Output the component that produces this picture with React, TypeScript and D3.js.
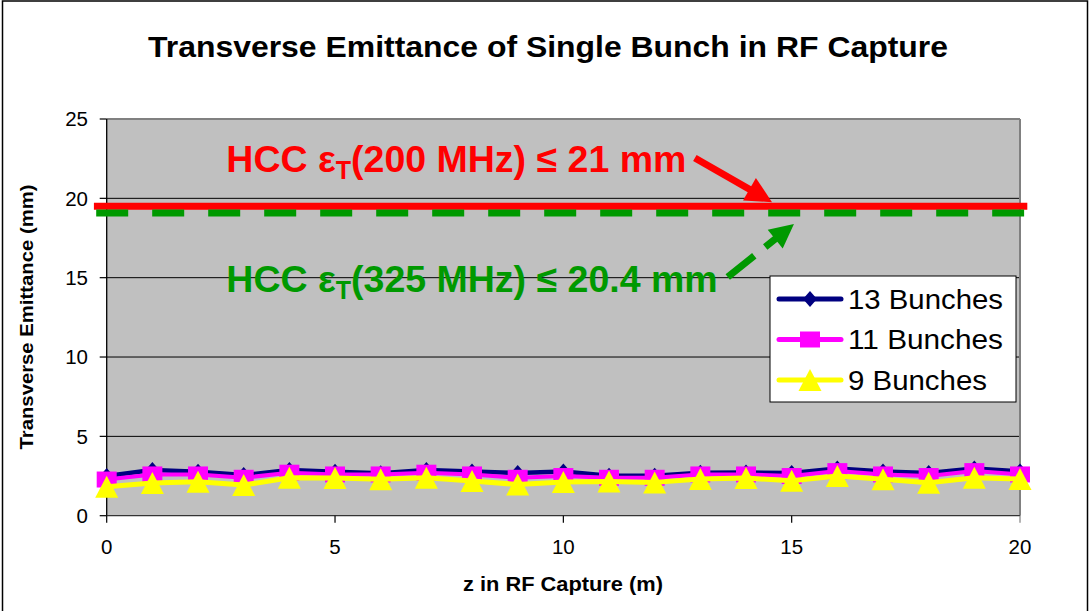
import React from 'react';
import * as d3 from 'd3';

// z positions (m) and emittance values (mm)
const zValues = [0, 1, 2, 3, 4, 5, 6, 7, 8, 9, 10, 11, 12, 13, 14, 15, 16, 17, 18, 19, 20];
const bunches13 = [2.5, 2.88, 2.77, 2.56, 2.88, 2.77, 2.68, 2.88, 2.79, 2.69, 2.79, 2.52, 2.52, 2.7, 2.72, 2.69, 2.98, 2.79, 2.69, 2.98, 2.79];
const bunches11 = [2.28, 2.6, 2.6, 2.39, 2.71, 2.6, 2.6, 2.71, 2.6, 2.39, 2.5, 2.39, 2.39, 2.6, 2.6, 2.5, 2.81, 2.6, 2.5, 2.81, 2.6];
const bunches9 = [1.83, 2.06, 2.14, 1.93, 2.39, 2.37, 2.29, 2.39, 2.18, 1.97, 2.12, 2.16, 2.1, 2.31, 2.37, 2.2, 2.5, 2.29, 2.08, 2.39, 2.31];

const seriesNames = ['13 Bunches', '11 Bunches', '9 Bunches'];
const xTicks = [0, 5, 10, 15, 20];
const yTicks = [0, 5, 10, 15, 20, 25];

// limit lines as drawn (mm)
const limit200 = 19.5;
const limit325 = 19.07;

const W = 1091;
const H = 611;
const margin = { left: 106.7, right: 71, top: 119, bottom: 95.3 };
const FONT = 'Arial, "Liberation Sans", sans-serif';

type Marker = 'diamond' | 'square' | 'triangle';

const seriesStyle: { color: string; width: number; marker: Marker }[] = [
  { color: '#000080', width: 4.5, marker: 'diamond' },
  { color: '#FF00FF', width: 4, marker: 'square' },
  { color: '#FFFF00', width: 5, marker: 'triangle' },
];

function markerPath(m: Marker, cx: number, cy: number) {
  if (m === 'diamond') return `M${cx},${cy - 8}L${cx + 7},${cy}L${cx},${cy + 8}L${cx - 7},${cy}Z`;
  if (m === 'square') return `M${cx - 10},${cy - 8}h20v16h-20Z`;
  return `M${cx},${cy - 11}L${cx + 11.5},${cy + 11}L${cx - 11.5},${cy + 11}Z`;
}

function arrowHead(x1: number, y1: number, x2: number, y2: number, len: number, half: number) {
  const a = Math.atan2(y2 - y1, x2 - x1);
  const bx = x2 - len * Math.cos(a);
  const by = y2 - len * Math.sin(a);
  const px = -Math.sin(a) * half;
  const py = Math.cos(a) * half;
  return `M${x2},${y2}L${bx + px},${by + py}L${bx - px},${by - py}Z`;
}

export default function App() {
  const innerW = W - margin.left - margin.right;
  const innerH = H - margin.top - margin.bottom;
  const x = d3.scaleLinear().domain([0, 20]).range([margin.left, margin.left + innerW]);
  const y = d3.scaleLinear().domain([0, 25]).range([margin.top + innerH, margin.top]);

  const data = [bunches13, bunches11, bunches9];
  const line = d3.line<number>().x((_, i) => x(zValues[i])).y((d) => y(d));

  // annotation arrows in data units
  const ra = { x1: x(12.88), y1: y(22.54), x2: x(14.57), y2: y(19.76) };
  const ga = { x1: x(13.6), y1: y(15.04), x2: x(15.05), y2: y(18.38) };
  const gAng = Math.atan2(ga.y2 - ga.y1, ga.x2 - ga.x1);
  const gShaftEnd = { x: ga.x2 - 22 * Math.cos(gAng), y: ga.y2 - 22 * Math.sin(gAng) };
  const rAng = Math.atan2(ra.y2 - ra.y1, ra.x2 - ra.x1);
  const rShaftEnd = { x: ra.x2 - 22 * Math.cos(rAng), y: ra.y2 - 22 * Math.sin(rAng) };

  const legendX = 770;
  const legendY = 276;
  const legendWidths = [155, 155, 139];

  return (
    <svg width={W} height={H} style={{ position: 'absolute', left: 0, top: 0, background: '#fff' }} fontFamily={FONT}>
      <rect x={2.5} y={1} width={1085} height={H + 10} fill="#fff" stroke="#000" strokeWidth={1.5} />
      <text x={548} y={57} textAnchor="middle" fontSize={29.5} fontWeight="bold" textLength={800} lengthAdjust="spacingAndGlyphs">
        Transverse Emittance of Single Bunch in RF Capture
      </text>

      {/* plot area */}
      <rect x={margin.left} y={margin.top} width={innerW} height={innerH} fill="#C0C0C0" />
      {yTicks.slice(1, -1).map((t) => (
        <line key={t} x1={margin.left} x2={margin.left + innerW} y1={y(t)} y2={y(t)} stroke="#000" strokeWidth={1} />
      ))}
      <line x1={margin.left} x2={margin.left + innerW} y1={y(25)} y2={y(25)} stroke="#808080" strokeWidth={2} />
      <line x1={margin.left + innerW} x2={margin.left + innerW} y1={y(25)} y2={y(0)} stroke="#808080" strokeWidth={2} />

      {/* axes */}
      <line x1={margin.left} x2={margin.left} y1={y(25)} y2={y(0)} stroke="#000" strokeWidth={1.3} />
      <line x1={margin.left} x2={margin.left + innerW} y1={y(0)} y2={y(0)} stroke="#333" strokeWidth={1.3} />
      {yTicks.map((t) => (
        <g key={t}>
          <line x1={margin.left - 7} x2={margin.left} y1={y(t)} y2={y(t)} stroke="#000" strokeWidth={1.2} />
          <text x={88} y={y(t)} dy="0.35em" textAnchor="end" fontSize={20.5}>{t}</text>
        </g>
      ))}
      {xTicks.map((t) => (
        <g key={t}>
          <line x1={x(t)} x2={x(t)} y1={y(0)} y2={y(0) + 7} stroke={t === 20 ? '#808080' : '#000'} strokeWidth={1.2} />
          <text x={x(t)} y={554} textAnchor="middle" fontSize={20.5}>{t}</text>
        </g>
      ))}
      <text x={563} y={591} textAnchor="middle" fontSize={20} fontWeight="bold" textLength={200} lengthAdjust="spacingAndGlyphs">
        z in RF Capture (m)
      </text>
      <text transform={`translate(33,317) rotate(-90)`} textAnchor="middle" fontSize={19} fontWeight="bold" textLength={265} lengthAdjust="spacingAndGlyphs">
        Transverse Emittance (mm)
      </text>

      {/* limit lines */}
      <line x1={x(-0.28)} x2={x(20.16)} y1={y(limit200)} y2={y(limit200)} stroke="#FF0000" strokeWidth={7} />
      <line x1={x(-0.23)} x2={x(20.09)} y1={y(limit325)} y2={y(limit325)} stroke="#009900" strokeWidth={7} strokeDasharray="32 24" />

      {/* series */}
      {data.map((vals, si) => (
        <g key={si}>
          <path d={line(vals) || ''} fill="none" stroke={seriesStyle[si].color} strokeWidth={seriesStyle[si].width} strokeLinejoin="round" />
          {vals.map((v, i) => (
            <path key={i} d={markerPath(seriesStyle[si].marker, x(zValues[i]), y(v))} fill={seriesStyle[si].color} />
          ))}
        </g>
      ))}

      {/* annotations */}
      <text x={x(2.62)} y={y(21.66)} fontSize={37.5} fontWeight="bold" fill="#FF0000">
        HCC ε<tspan fontSize={25} dy={7}>T</tspan><tspan dy={-7}>(200 MHz) ≤ 21 mm</tspan>
      </text>
      <line x1={ra.x1} y1={ra.y1} x2={rShaftEnd.x} y2={rShaftEnd.y} stroke="#FF0000" strokeWidth={7} />
      <path d={arrowHead(ra.x1, ra.y1, ra.x2, ra.y2, 26, 13)} fill="#FF0000" />

      <text x={x(2.62)} y={y(14.1)} fontSize={37.5} fontWeight="bold" fill="#009900">
        HCC ε<tspan fontSize={25} dy={7}>T</tspan><tspan dy={-7}>(325 MHz) ≤ 20.4 mm</tspan>
      </text>
      <line x1={ga.x1} y1={ga.y1} x2={gShaftEnd.x} y2={gShaftEnd.y} stroke="#009900" strokeWidth={7} strokeDasharray="34 14" />
      <path d={arrowHead(ga.x1, ga.y1, ga.x2, ga.y2, 24, 12)} fill="#009900" />

      {/* legend */}
      <rect x={legendX} y={legendY} width={246} height={126} fill="#fff" stroke="#000" strokeWidth={1} />
      {seriesNames.map((name, i) => {
        const cy = legendY + 23 + i * 40.5;
        return (
          <g key={name}>
            <line x1={legendX + 9} x2={legendX + 71} y1={cy} y2={cy} stroke={seriesStyle[i].color} strokeWidth={5} strokeLinecap="round" />
            <path d={markerPath(seriesStyle[i].marker, legendX + 40, cy)} fill={seriesStyle[i].color} />
            <text x={legendX + 78} y={cy} dy="0.36em" fontSize={27} textLength={legendWidths[i]} lengthAdjust="spacingAndGlyphs">{name}</text>
          </g>
        );
      })}
    </svg>
  );
}
